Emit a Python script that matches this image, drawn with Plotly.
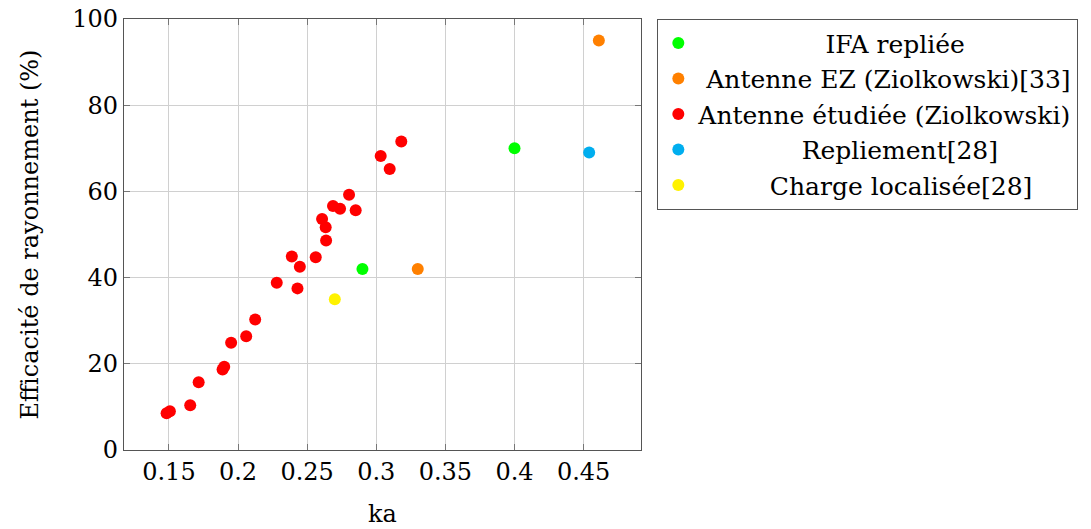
import plotly.graph_objects as go

# Data
ifa_x = [0.29, 0.40]
ifa_y = [42, 70]
ez_x = [0.33, 0.461]
ez_y = [42, 95]
etud_x = [0.1483, 0.1507, 0.1654, 0.1715, 0.1888, 0.1900, 0.1950, 0.2059, 0.2124,
          0.2280, 0.2430, 0.2389, 0.2447, 0.2562, 0.2637, 0.2608, 0.2634, 0.2687,
          0.2738, 0.2803, 0.2851, 0.3032, 0.3097, 0.3181]
etud_y = [8.5, 9.0, 10.4, 15.7, 18.7, 19.3, 24.9, 26.4, 30.3,
          38.8, 37.5, 44.9, 42.5, 44.7, 48.6, 53.6, 51.7, 56.6,
          56.0, 59.2, 55.6, 68.2, 65.2, 71.6]
repl_x = [0.454]
repl_y = [69]
charge_x = [0.27]
charge_y = [35]

names = ["IFA repliée", "Antenne EZ (Ziolkowski)[33]", "Antenne étudiée (Ziolkowski)",
         "Repliement[28]", "Charge localisée[28]"]
# non-breaking-space padding used only to centre the legend text like the original
pads = [16, 1, 0, 13, 9]
colors = ["#00ff00", "#ff8000", "#ff0000", "#00aeef", "#fff200"]
series = [(ifa_x, ifa_y), (ez_x, ez_y), (etud_x, etud_y), (repl_x, repl_y), (charge_x, charge_y)]

x_ticks = [0.15, 0.2, 0.25, 0.3, 0.35, 0.4, 0.45]
y_ticks = [0, 20, 40, 60, 80, 100]

FONT = "DejaVu Serif"
FS = 24
LFS = 25

fig = go.Figure()
for (xs, ys), name, col, p in zip(series, names, colors, pads):
    fig.add_trace(go.Scatter(x=xs, y=ys, mode="markers", name="\u00a0" * p + name,
                             marker=dict(color=col, size=12, line=dict(width=0))))

axis_common = dict(showline=True, linecolor="#555555", linewidth=1.3, mirror="ticks",
                   ticks="inside", ticklen=6, tickcolor="#777777", showgrid=True,
                   gridcolor="#d0d0d0", gridwidth=1, zeroline=False, automargin=False,
                   ticklabeloverflow="allow",
                   tickfont=dict(family=FONT, size=FS, color="black"))

fig.update_layout(
    width=1091, height=529,
    margin=dict(l=124, r=450, t=19, b=79),
    paper_bgcolor="white", plot_bgcolor="white",
    font=dict(family=FONT, size=FS, color="black"),
    xaxis=dict(range=[0.1175, 0.4915], tickvals=x_ticks,
               ticktext=[str(v) for v in x_ticks],
               title=dict(text="ka", font=dict(family=FONT, size=FS), standoff=20),
               **axis_common),
    yaxis=dict(range=[0, 100], tickvals=y_ticks,
               title=dict(text="Efficacité de rayonnement (%)", font=dict(family=FONT, size=FS), standoff=26),
               **axis_common),
    legend=dict(x=1.031, y=1.0, xanchor="left", yanchor="top",
                bordercolor="#555555", borderwidth=1.3, bgcolor="white",
                font=dict(family=FONT, size=LFS), itemwidth=30,
                tracegroupgap=0, itemsizing="constant"),
    showlegend=True,
)

fig.write_html("out.html", config={"displayModeBar": False},
               post_script="document.body.style.margin='0';")
